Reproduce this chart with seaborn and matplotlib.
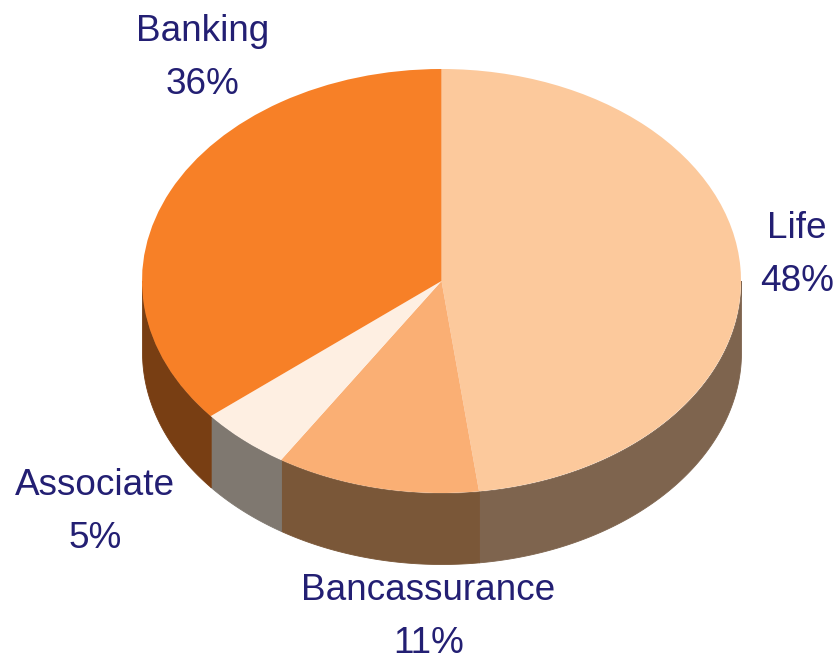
import numpy as np
import matplotlib
matplotlib.use("Agg")
import matplotlib.pyplot as plt
import seaborn as sns

# Business mix by segment, clockwise from twelve o'clock
segments = ["Life", "Bancassurance", "Associate", "Banking"]
shares = [48, 11, 5, 36]
top_colors = ["#FCC99C", "#FAAF74", "#FEEFE2", "#F78027"]
side_colors = ["#7E644E", "#7A5738", "#7F7870", "#783E13"]
label_xy = [(797, 255), (428.5, 617), (95, 512), (202.5, 58)]

WIDTH, HEIGHT = 840, 657
CX, CY, RX, RY, DEPTH = 441.5, 281, 299.5, 212, 71

sns.set_theme(style="white")
plt.rcParams["font.family"] = ["Liberation Sans", "DejaVu Sans"]

fig = plt.figure(figsize=(WIDTH / 100, HEIGHT / 100), dpi=100)
ax = fig.add_axes([0, 0, 1, 1])

# Rim of the disc: only the front half (lower half of the ellipse) is visible
depth = DEPTH / RY
edges = np.cumsum([0] + shares) / sum(shares) * 2 * np.pi
for start, stop, color in zip(edges[:-1], edges[1:], side_colors):
    lo, hi = max(start, np.pi / 2), min(stop, 3 * np.pi / 2)
    if lo >= hi:
        continue
    t = np.linspace(lo, hi, 200)
    x, y = np.sin(t), np.cos(t)
    ax.fill_between(x, y, y - depth, color=color, linewidth=0.6, zorder=1)

# Top face: a regular pie stretched into an ellipse by the unequal axis scales
ax.pie(shares, colors=top_colors, startangle=90, counterclock=False, radius=1,
       wedgeprops={"linewidth": 0}, center=(0, 0))
for patch in ax.patches:
    patch.set_zorder(2)

ax.set_aspect("auto")
ax.set_xlim(-CX / RX, (WIDTH - CX) / RX)
ax.set_ylim(-(HEIGHT - CY) / RY, CY / RY)
ax.axis("off")

# Category name above its percentage, placed in pixel coordinates
for name, share, (px, py) in zip(segments, shares, label_xy):
    ax.text(px / WIDTH, 1 - py / HEIGHT, f"{name}\n{share}%", transform=ax.transAxes,
            ha="center", va="center", fontsize=26.6, color="#231F73",
            linespacing=1.68, zorder=3)

fig.savefig("out.png", dpi=100)
